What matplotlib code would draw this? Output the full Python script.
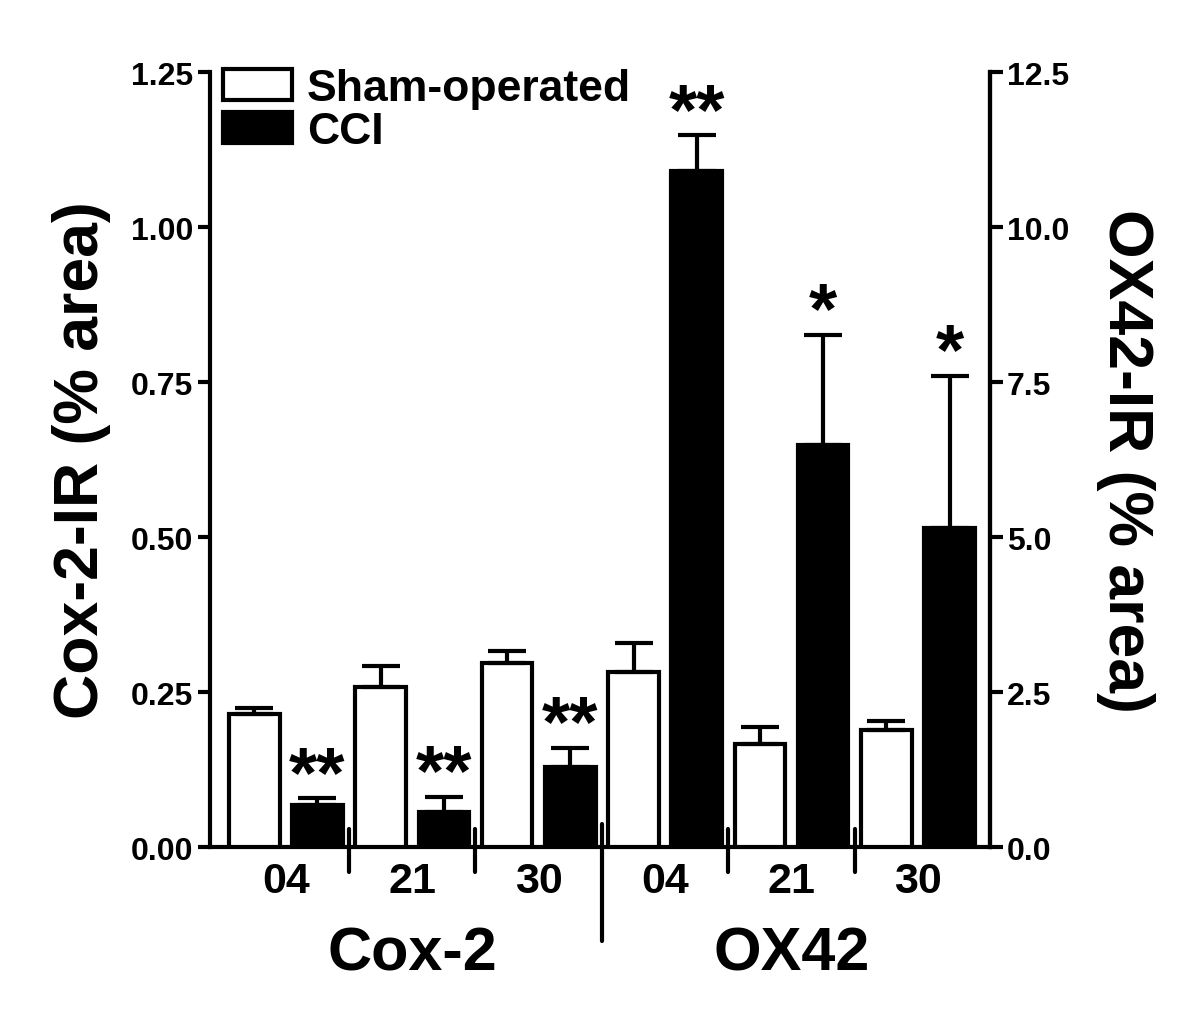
import matplotlib.pyplot as plt
import numpy as np

plt.rcParams['font.family'] = ['Liberation Sans', 'DejaVu Sans']
plt.rcParams['font.weight'] = 'bold'
plt.rcParams['axes.labelweight'] = 'bold'

days = ['04', '21', '30', '04', '21', '30']
markers = ['Cox-2', 'OX42']

# Cox-2 (left axis)
cox_sham = [0.214, 0.258, 0.297]
cox_sham_err = [0.010, 0.034, 0.019]
cox_cci = [0.068, 0.056, 0.129]
cox_cci_err = [0.011, 0.025, 0.031]
cox_stars = ['**', '**', '**']

# OX42 (right axis)
ox_sham = [2.82, 1.66, 1.89]
ox_sham_err = [0.47, 0.28, 0.14]
ox_cci = [10.9, 6.48, 5.15]
ox_cci_err = [0.58, 1.78, 2.45]
ox_stars = ['**', '*', '*']

lw = 3
w = 0.4
off = 0.25

fig = plt.figure(figsize=(12, 10.2), dpi=100)
ax = fig.add_axes([0.175, 0.1686, 0.65, 0.7598])
ax2 = ax.twinx()

x1 = np.arange(3)
x2 = np.arange(3, 6)

ekw = dict(elinewidth=lw, capthick=lw, capsize=14, ecolor='black')

def draw(a, x, sham, sham_err, cci, cci_err, stars):
    a.bar(x - off, sham, w, color='white', edgecolor='black', linewidth=lw,
          yerr=[np.zeros(3), sham_err], error_kw=ekw, label='Sham-operated', zorder=3)
    a.bar(x + off, cci, w, color='black', edgecolor='black', linewidth=lw,
          yerr=[np.zeros(3), cci_err], error_kw=ekw, label='CCI', zorder=3)
    for xi, v, e, s in zip(x, cci, cci_err, stars):
        a.annotate(s, (xi + off, v + e), xytext=(0, -9), textcoords='offset points',
                   ha='center', va='bottom', fontsize=52, fontweight='bold')

draw(ax, x1, cox_sham, cox_sham_err, cox_cci, cox_cci_err, cox_stars)
draw(ax2, x2, ox_sham, ox_sham_err, ox_cci, ox_cci_err, ox_stars)

ax.set_xlim(-0.6, 5.57)
ax.set_ylim(0, 1.25)
ax2.set_ylim(0, 12.5)
ax.set_yticks([0, 0.25, 0.5, 0.75, 1.0, 1.25])
ax.set_yticklabels(['0.00', '0.25', '0.50', '0.75', '1.00', '1.25'])
ax2.set_yticks([0, 2.5, 5, 7.5, 10, 12.5])
ax2.set_yticklabels(['0.0', '2.5', '5.0', '7.5', '10.0', '12.5'])

for a in (ax, ax2):
    a.spines['top'].set_visible(False)
    for s in a.spines.values():
        s.set_linewidth(lw)
    a.tick_params(axis='y', length=9, width=lw, labelsize=23, pad=3)
ax2.spines['left'].set_visible(False)
ax2.spines['bottom'].set_visible(False)

ax.set_xticks(np.arange(6))
ax.set_xticklabels(days, fontsize=31)
ax.tick_params(axis='x', length=0, pad=10)

ax.set_ylabel('Cox-2-IR (% area)', fontsize=45, labelpad=14)
ax2.set_ylabel('OX42-IR (% area)', fontsize=45, rotation=270, labelpad=62)

# group separators on the x axis
for i in range(5):
    if i == 2:
        ax.plot([i + 0.5, i + 0.5], [0.037, -0.152], color='black', lw=lw,
                clip_on=False, solid_capstyle='round')
    else:
        ax.plot([i + 0.5, i + 0.5], [0.029, -0.04], color='black', lw=lw,
                clip_on=False, solid_capstyle='round')

for i, m in enumerate(markers):
    ax.text(1 + 3 * i, -0.172, m, ha='center', va='center', fontsize=44,
            fontweight='bold')

h, l = ax.get_legend_handles_labels()
leg = ax.legend(h, l, loc='upper left', bbox_to_anchor=(-0.018, 1.04), frameon=False,
                fontsize=32, handlelength=1.55, handleheight=0.7, handletextpad=0.35,
                labelspacing=0.05, borderaxespad=0.2)

fig.savefig('out.png', dpi=100)
